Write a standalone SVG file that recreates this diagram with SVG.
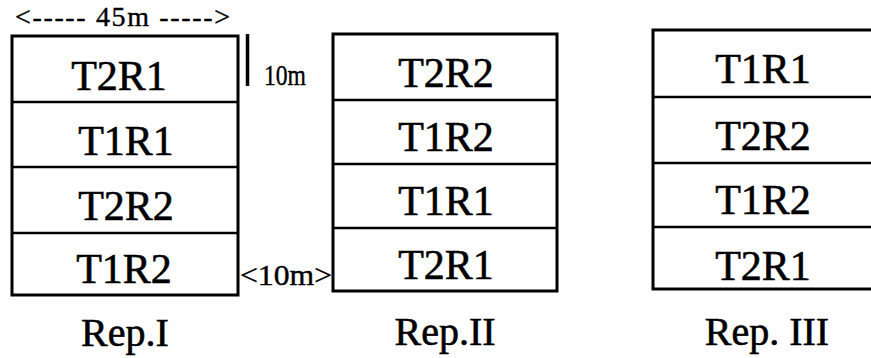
<svg xmlns="http://www.w3.org/2000/svg" width="871" height="358" viewBox="0 0 871 358">
<style>
.box{fill:none;stroke:#000;stroke-width:3}
.div{stroke:#000;stroke-width:2.5}
.t{font-family:"Liberation Serif","Times New Roman",serif;font-size:42px;fill:#000;stroke:#000;stroke-width:0.6;text-anchor:middle}
.lbl{font-family:"Liberation Serif","Times New Roman",serif;font-size:40px;fill:#000;stroke:#000;stroke-width:0.6;text-anchor:middle}
.dim{font-family:"Liberation Serif","Times New Roman",serif;fill:#000;stroke:#000;stroke-width:0.4}
.top{font-size:28px}
.ten{font-size:29px}
</style>
<rect width="871" height="358" fill="#fff"/>
<g id="rep1">
<rect class="box" x="12" y="36" width="226" height="259"/>
<line class="div" x1="12" y1="102" x2="238" y2="102"/>
<line class="div" x1="12" y1="167" x2="238" y2="167"/>
<line class="div" x1="12" y1="233" x2="238" y2="233"/>
<text class="t" x="119" y="90">T2R1</text>
<text class="t" x="126" y="155">T1R1</text>
<text class="t" x="126" y="220">T2R2</text>
<text class="t" x="124" y="283">T1R2</text>
<text class="lbl" x="125" y="346">Rep.I</text>
</g>
<g id="rep2">
<rect class="box" x="333" y="34" width="224" height="257"/>
<line class="div" x1="333" y1="100" x2="557" y2="100"/>
<line class="div" x1="333" y1="164" x2="557" y2="164"/>
<line class="div" x1="333" y1="228" x2="557" y2="228"/>
<text class="t" x="446" y="87">T2R2</text>
<text class="t" x="446" y="151">T1R2</text>
<text class="t" x="446" y="215">T1R1</text>
<text class="t" x="446" y="279">T2R1</text>
<text class="lbl" x="445" y="345">Rep.II</text>
</g>
<g id="rep3">
<rect class="box" x="653" y="30" width="222" height="259"/>
<line class="div" x1="653" y1="97" x2="875" y2="97"/>
<line class="div" x1="653" y1="163" x2="875" y2="163"/>
<line class="div" x1="653" y1="227" x2="875" y2="227"/>
<text class="t" x="763" y="83">T1R1</text>
<text class="t" x="763" y="150">T2R2</text>
<text class="t" x="763" y="214">T1R2</text>
<text class="t" x="763" y="280">T2R1</text>
<text class="lbl" x="767" y="345">Rep. III</text>
</g>
<g id="dimensions">
<text class="dim top" x="15" y="26" textLength="215" lengthAdjust="spacing">&lt;----- 45m -----&gt;</text>
<line x1="247.5" y1="34" x2="247.5" y2="86" stroke="#000" stroke-width="3.5"/>
<text class="dim ten" x="264" y="85" textLength="42" lengthAdjust="spacingAndGlyphs">10m</text>
<text class="dim ten" x="240" y="285" textLength="92" lengthAdjust="spacingAndGlyphs">&lt;10m&gt;</text>
</g>
</svg>
